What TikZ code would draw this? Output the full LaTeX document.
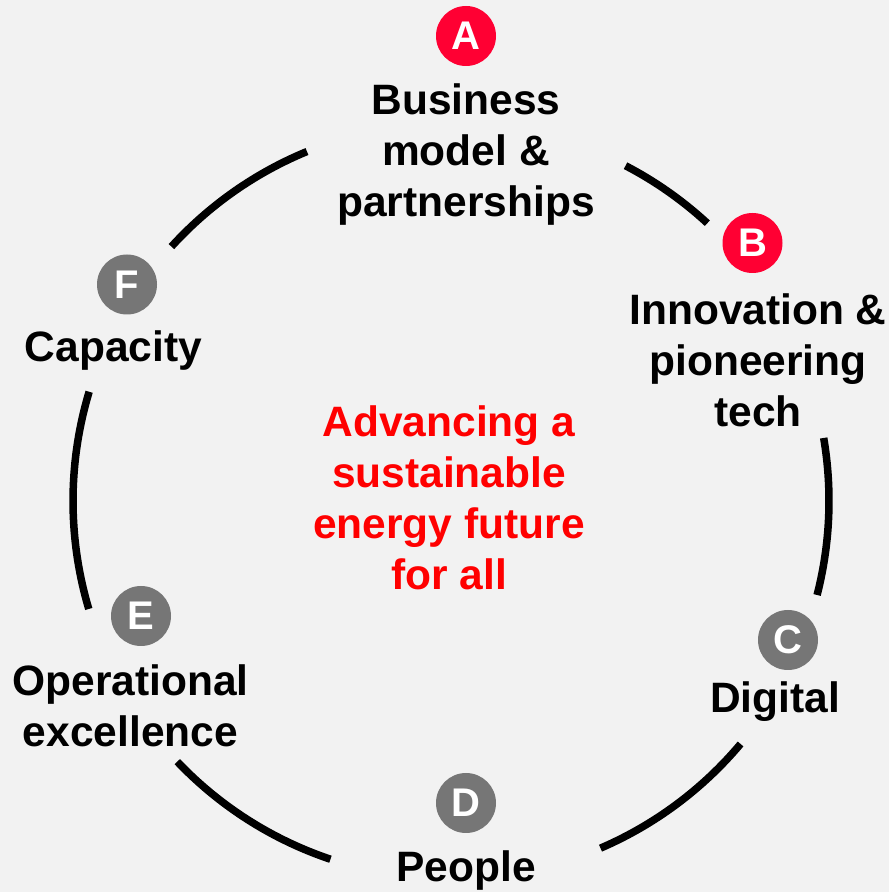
\documentclass[tikz,border=0pt]{standalone}
\usepackage{fontspec}
\setmainfont{Liberation Sans}
\usetikzlibrary{positioning}

\begin{document}
\begin{tikzpicture}[x=1pt,y=1pt,
	ring/.style={line width=7.5pt},
	badge/.style={circle,fill=#1,minimum size=60pt,inner sep=0pt,text=white,font=\fontsize{40}{40}\selectfont\bfseries},
	caption/.style={align=center,anchor=base,font=\fontsize{42.5}{51}\selectfont\bfseries}]

\definecolor{brandred}{RGB}{255,0,51}
\definecolor{badgegray}{RGB}{118,118,118}
\definecolor{bggray}{RGB}{242,242,242}

\fill[bggray] (0,0) rectangle (889,892);
\useasboundingbox (0,0) rectangle (889,892);

\coordinate (O) at (451,391);

% the ring, broken at each label
\foreach \a/\b in {112.4/137.7,47.3/62.5,-14.4/9.6,-66.7/-40,223.6/251.4,163.2/196.6}{
	\draw[ring] ([shift={(\a:378)}]O) arc[start angle=\a,end angle=\b,radius=378];
}

% base = base line of the last line
\node[badge=brandred] (A) at (466,856) {A};
\node[caption] (tA) at (466,675) {Business\\model \&\\partnerships};

\node[badge=brandred] (B) at (752.5,649) {B};
\node[caption] (tB) at (758,465.5) {Innovation \&\\pioneering\\tech};

\node[badge=badgegray] (C) at (788,252) {C};
\node[caption] (tC) at (775,179) {Digital};

\node[badge=badgegray] (D) at (466,89) {D};
\node[caption] (tD) at (466,10) {People};

\node[badge=badgegray] (E) at (141,276) {E};
\node[caption] (tE) at (130.5,145.5) {Operational\\excellence};

\node[badge=badgegray] (F) at (127,607.5) {F};
\node[caption] (tF) at (113.5,530) {Capacity};

\node[caption,text=red] (goal) at (449,302) {Advancing a\\sustainable\\energy future\\for all};

\end{tikzpicture}
\end{document}
